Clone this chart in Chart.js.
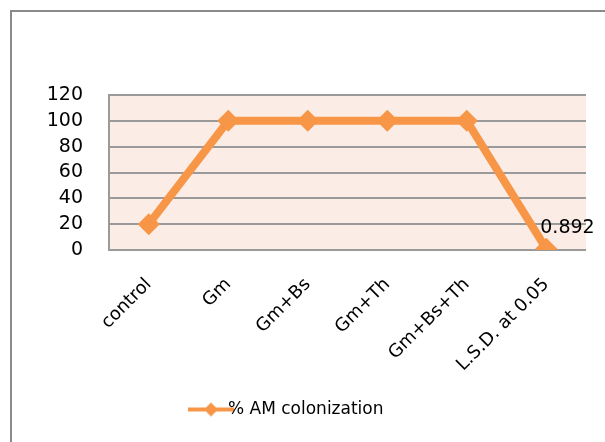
<!DOCTYPE html>
<html>
<head>
<meta charset="utf-8">
<script src="https://cdn.jsdelivr.net/npm/chart.js@4/dist/chart.umd.min.js"></script>
<style>
  html, body { margin: 0; padding: 0; background: #fff; }
  #wrap { width: 605px; height: 442px; position: relative; }
</style>
</head>
<body>
<div id="wrap"><canvas id="c" width="605" height="442"></canvas></div>
<script>
// Treatments along the x axis
const categories = ['control', 'Gm', 'Gm+Bs', 'Gm+Th', 'Gm+Bs+Th', 'L.S.D. at 0.05'];
// % AM colonization per treatment
const colonization = [20, 100, 100, 100, 100, 0.892];
// Value axis ticks
const yTicks = [0, 20, 40, 60, 80, 100, 120];
const seriesName = '% AM colonization';

const ORANGE = '#F79646';
const FONT = 'DejaVu Sans';

// Legend symbol: short line with a diamond in the middle
function legendSymbol() {
  const cv = document.createElement('canvas');
  cv.width = 46; cv.height = 16;
  const g = cv.getContext('2d');
  g.strokeStyle = ORANGE; g.lineWidth = 4;
  g.beginPath(); g.moveTo(0, 8); g.lineTo(46, 8); g.stroke();
  g.fillStyle = ORANGE;
  g.beginPath(); g.moveTo(23, 1); g.lineTo(30, 8); g.lineTo(23, 15); g.lineTo(16, 8); g.closePath(); g.fill();
  return cv;
}

// Frame around the chart and shaded plot background
const framePlugin = {
  id: 'frame',
  beforeDraw(chart) {
    const { ctx, chartArea: a } = chart;
    ctx.save();
    ctx.fillStyle = '#fff';
    ctx.fillRect(0, 0, chart.width, chart.height);
    ctx.strokeStyle = '#8a8a8a';
    ctx.lineWidth = 2;
    ctx.beginPath();
    ctx.moveTo(11, chart.height); ctx.lineTo(11, 11); ctx.lineTo(chart.width, 11);
    ctx.stroke();
    ctx.fillStyle = '#FCECE6';
    ctx.fillRect(a.left, a.top, a.right - a.left, a.bottom - a.top);
    ctx.restore();
  },
  afterDatasetsDraw(chart) {
    // value label on the last point
    const { ctx } = chart;
    const meta = chart.getDatasetMeta(0);
    const i = colonization.length - 1;
    const p = meta.data[i];
    ctx.save();
    ctx.font = '19px ' + FONT;
    ctx.fillStyle = '#000';
    ctx.textAlign = 'left';
    ctx.textBaseline = 'middle';
    ctx.fillText(String(colonization[i]), p.x - 6, p.y - 21);
    ctx.restore();
  }
};

new Chart(document.getElementById('c'), {
  type: 'line',
  data: {
    labels: categories,
    datasets: [{
      label: seriesName,
      data: colonization,
      borderColor: ORANGE,
      backgroundColor: ORANGE,
      borderWidth: 8,
      pointStyle: 'rectRot',
      pointRadius: 11,
      pointBorderWidth: 0,
      tension: 0
    }]
  },
  options: {
    responsive: false,
    animation: false,
    layout: { padding: { top: 95, right: 19, left: 0, bottom: 14 } },
    plugins: {
      legend: {
        position: 'bottom',
        labels: {
          usePointStyle: true,
          generateLabels(chart) {
            return [{ text: seriesName, pointStyle: legendSymbol(), datasetIndex: 0, fontColor: '#000', lineWidth: 0, strokeStyle: 'transparent', fillStyle: ORANGE }];
          },
          font: { family: FONT, size: 17 },
          color: '#000',
          padding: 14
        }
      },
      tooltip: { enabled: false }
    },
    scales: {
      x: {
        offset: true,
        grid: { display: false, drawTicks: false },
        border: { display: false },
        ticks: {
          color: '#000',
          font: { family: FONT, size: 18 },
          minRotation: 45,
          maxRotation: 45,
          autoSkip: false,
          padding: 24
        },
        afterFit(scale) { scale.height = 137; }
      },
      y: {
        min: 0,
        max: 120,
        afterBuildTicks(scale) { scale.ticks = yTicks.map(v => ({ value: v })); },
        grid: { color: '#9a9a9a', lineWidth: 2, drawTicks: false },
        border: { display: true, color: '#9a9a9a', width: 2 },
        ticks: {
          color: '#000',
          font: { family: FONT, size: 19 },
          autoSkip: false,
          padding: 26
        },
        afterFit(scale) { scale.width = 109; }
      }
    }
  },
  plugins: [framePlugin]
});
</script>
</body>
</html>
